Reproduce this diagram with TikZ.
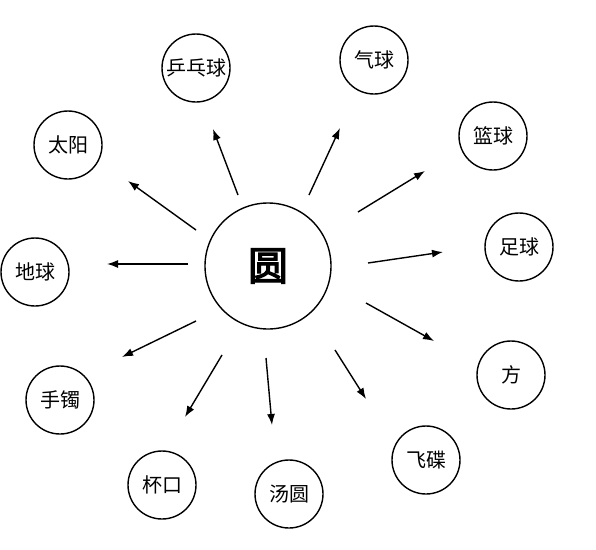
\documentclass[tikz,border=0pt]{standalone}
\usepackage{fontspec}
\newfontfamily\cjk[AutoFakeBold=3]{Noto Sans CJK SC}
\usetikzlibrary{arrows.meta}
\tikzset{
  item/.style={draw, circle, line width=1.4pt, minimum size=68pt, inner sep=0pt, font=\cjk\fontsize{20}{20}\selectfont},
  hub/.style={draw, circle, line width=1.4pt, minimum size=126pt, inner sep=0pt, font=\cjk\bfseries\fontsize{40}{40}\selectfont},
  arr/.style={line width=1.4pt, -{Latex[length=11pt,width=8pt]}}
}
\begin{document}
\begin{tikzpicture}[x=1pt,y=-1pt]
\useasboundingbox (0,0) rectangle (596,549);
\node[hub] (c) at (268,266) {圆};
\node[item] (pp) at (196,68) {乒乓球};
\node[item] (ty) at (68,145) {太阳};
\node[item] (dq) at (35,272) {地球};
\node[item] (qq) at (374,60) {气球};
\node[item] (lq) at (493,136) {篮球};
\node[item] (zq) at (519,247) {足球};
\node[item] (f) at (511,375) {方};
\node[item] (fd) at (426,460) {飞碟};
\node[item] (ty2) at (289,494) {汤圆};
\node[item] (bk) at (162,485) {杯口};
\node[item] (sz) at (60,400) {手镯};
% arrow end points
\coordinate (a1s) at (238,195); \coordinate (a1t) at (213,129);
\coordinate (a2s) at (196,230); \coordinate (a2t) at (128,181);
\coordinate (a3s) at (188,264); \coordinate (a3t) at (107,264);
\coordinate (a4s) at (309,195); \coordinate (a4t) at (340,128);
\coordinate (a5s) at (358,212); \coordinate (a5t) at (425,171);
\coordinate (a6s) at (368,263); \coordinate (a6t) at (443,252);
\coordinate (a7s) at (366,303); \coordinate (a7t) at (434,341);
\coordinate (a8s) at (335,350); \coordinate (a8t) at (366,399);
\coordinate (a9s) at (266,358); \coordinate (a9t) at (272,425);
\coordinate (a10s) at (222,355); \coordinate (a10t) at (185,417);
\coordinate (a11s) at (196,321); \coordinate (a11t) at (122,357);
\foreach \i in {1,...,11} {\draw[arr] (a\i s) -- (a\i t);}
\end{tikzpicture}
\end{document}
